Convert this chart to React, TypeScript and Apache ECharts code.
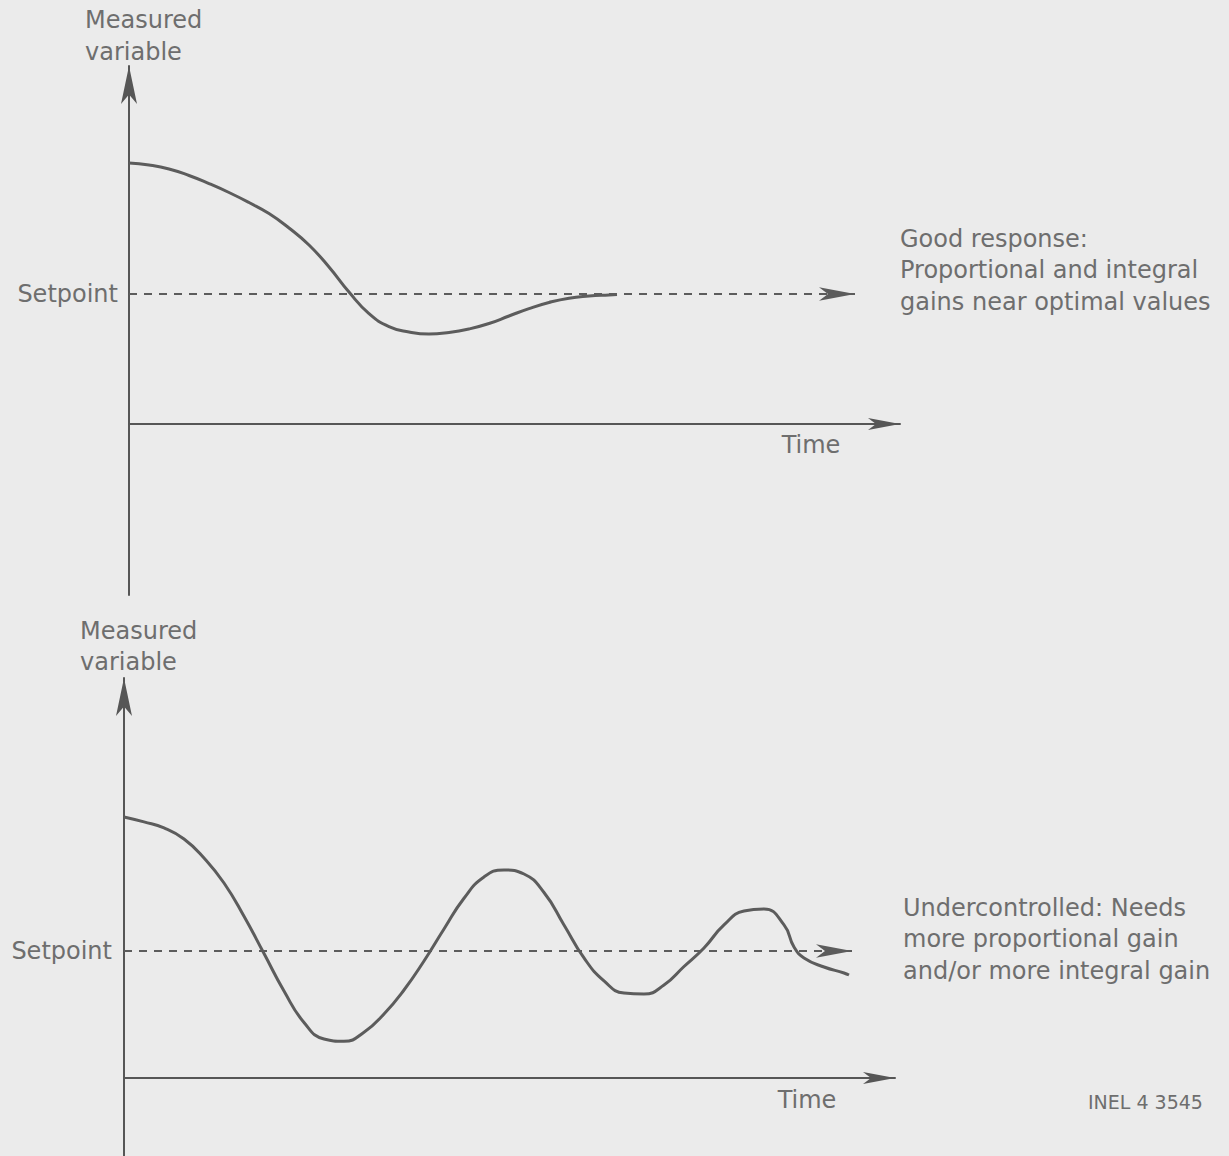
import React, { useEffect, useRef } from "react";
import * as echarts from "echarts";

// Time in arbitrary units (0..77.1 along the time axis); measured variable in % of setpoint
const setpointValue = 100;
const timeMax = 77.1;

// Top panel: good response
const topTime = [0, 2, 4, 6, 8, 10, 12, 14, 16, 18, 20, 22, 24, 26, 28, 30, 32, 34, 36, 38, 40, 42, 44, 46, 48, 48.8];
const topValue = [200.8, 199.2, 196.2, 191.2, 185.0, 178.1, 170.4, 161.9, 150.8, 137.7, 120.8, 101.5, 85.0, 75.0, 70.8, 69.2, 70.4, 73.1, 77.3, 83.1, 88.8, 93.5, 96.8, 98.4, 99.3, 99.6];

// Bottom panel: undercontrolled response
const bottomTime = [0, 2, 4, 6, 8, 10, 12, 14, 16, 18, 20, 22, 24, 26, 28, 30, 32, 34, 36, 38, 40, 42, 44, 46, 48, 50, 52, 54, 56, 58, 60, 62, 64, 66, 67, 68, 70, 72, 72.5];
const bottomValue = [205.5, 201.6, 196.9, 188.2, 173.2, 153.5, 127.3, 98.0, 68.5, 43.7, 30.7, 28.9, 36.0, 50.4, 69.3, 92.1, 117.3, 141.5, 158.3, 163.8, 160.6, 146.0, 120.5, 94.5, 76.4, 66.9, 66.1, 73.2, 87.8, 102.4, 120.5, 131.5, 133.1, 120.5, 103.1, 94.5, 87.4, 82.7, 81.1];

// Setpoint dashed-arrow end (arrow tip)
const setpointEndTop = 72.6;
const setpointEndBottom = 72.8;

const topAxisLabel = "Measured\nvariable";
const timeLabel = "Time";
const setpointLabel = "Setpoint";
const topNote = "Good response:\nProportional and integral\ngains near optimal values";
const bottomNote = "Undercontrolled: Needs\nmore proportional gain\nand/or more integral gain";
const figureId = "INEL 4 3545";

const LINE = "#565656";
const CURVE = "#5c5c5c";
const TEXT = "#6e6e6e";
const FONT = '"DejaVu Sans", "Liberation Sans", sans-serif';
const FS = 24;

function zip(a: number[], b: number[]) {
  return a.map((v, i) => [v, b[i]]);
}

export default function App() {
  const ref = useRef<HTMLDivElement>(null);

  useEffect(() => {
    document.body.style.margin = "0";
    document.body.style.background = "#ebebeb";
    if (!ref.current) return;
    const chart = echarts.init(ref.current, undefined, { renderer: "svg" });

    const axisLineX = {
      show: true,
      onZero: true,
      symbol: ["none", "arrow"],
      symbolSize: [9, 32],
      lineStyle: { color: LINE, width: 2 },
    };
    const axisLineY = {
      show: true,
      symbol: ["none", "arrow"],
      symbolSize: [12, 38],
      lineStyle: { color: LINE, width: 2 },
    };
    const hidden = {
      axisTick: { show: false },
      axisLabel: { show: false },
      splitLine: { show: false },
    };

    const setpointMark = (end: number, dist: number) => ({
      silent: true,
      symbol: ["none", "arrow"],
      symbolSize: [10, 36],
      lineStyle: { type: [8, 7], color: CURVE, width: 2 },
      label: {
        show: true,
        position: "start",
        formatter: setpointLabel,
        distance: dist,
        color: TEXT,
        fontSize: FS,
        fontFamily: FONT,
      },
      data: [[{ coord: [0, setpointValue] }, { coord: [end, setpointValue] }]],
    });

    const textStyle = (size: number, lh: number, align: string) => ({
      fill: TEXT,
      font: `${size}px ${FONT}`,
      fontSize: size,
      fontFamily: FONT,
      lineHeight: lh,
      align,
      textAlign: align,
      verticalAlign: "middle",
      textVerticalAlign: "middle",
    });

    chart.setOption({
      animation: false,
      backgroundColor: "#ebebeb",
      grid: [
        { left: 129, width: 771, top: 66, height: 529 },
        { left: 124, width: 771, top: 678, height: 478 },
      ],
      xAxis: [
        { type: "value", gridIndex: 0, min: 0, max: timeMax, axisLine: axisLineX, ...hidden },
        { type: "value", gridIndex: 1, min: 0, max: timeMax, axisLine: axisLineX, ...hidden },
      ],
      yAxis: [
        { type: "value", gridIndex: 0, min: -131.5, max: 275.4, axisLine: axisLineY, ...hidden },
        { type: "value", gridIndex: 1, min: -61.4, max: 314.9, axisLine: axisLineY, ...hidden },
      ],
      series: [
        {
          type: "line",
          xAxisIndex: 0,
          yAxisIndex: 0,
          data: zip(topTime, topValue),
          smooth: 0.5,
          showSymbol: false,
          lineStyle: { color: CURVE, width: 3 },
          markLine: setpointMark(setpointEndTop, 11),
        },
        {
          type: "line",
          xAxisIndex: 1,
          yAxisIndex: 1,
          data: zip(bottomTime, bottomValue),
          smooth: 0.5,
          showSymbol: false,
          lineStyle: { color: CURVE, width: 3 },
          markLine: setpointMark(setpointEndBottom, 12),
        },
      ],
      graphic: [
        { type: "text", x: 85, y: 36, style: { text: topAxisLabel, ...textStyle(FS, 32, "left") } },
        { type: "text", x: 80, y: 646, style: { text: topAxisLabel, ...textStyle(FS, 31, "left") } },
        { type: "text", x: 811, y: 445, style: { text: timeLabel, ...textStyle(FS, 28, "center") } },
        { type: "text", x: 807, y: 1100, style: { text: timeLabel, ...textStyle(FS, 28, "center") } },
        { type: "text", x: 900, y: 270, style: { text: topNote, ...textStyle(FS, 31.5, "left") } },
        { type: "text", x: 903, y: 939, style: { text: bottomNote, ...textStyle(FS, 31.5, "left") } },
        { type: "text", x: 1088, y: 1102, style: { text: figureId, ...textStyle(19, 24, "left") } },
      ],
    });

    return () => chart.dispose();
  }, []);

  return <div ref={ref} style={{ width: 1229, height: 1156, background: "#ebebeb" }} />;
}
